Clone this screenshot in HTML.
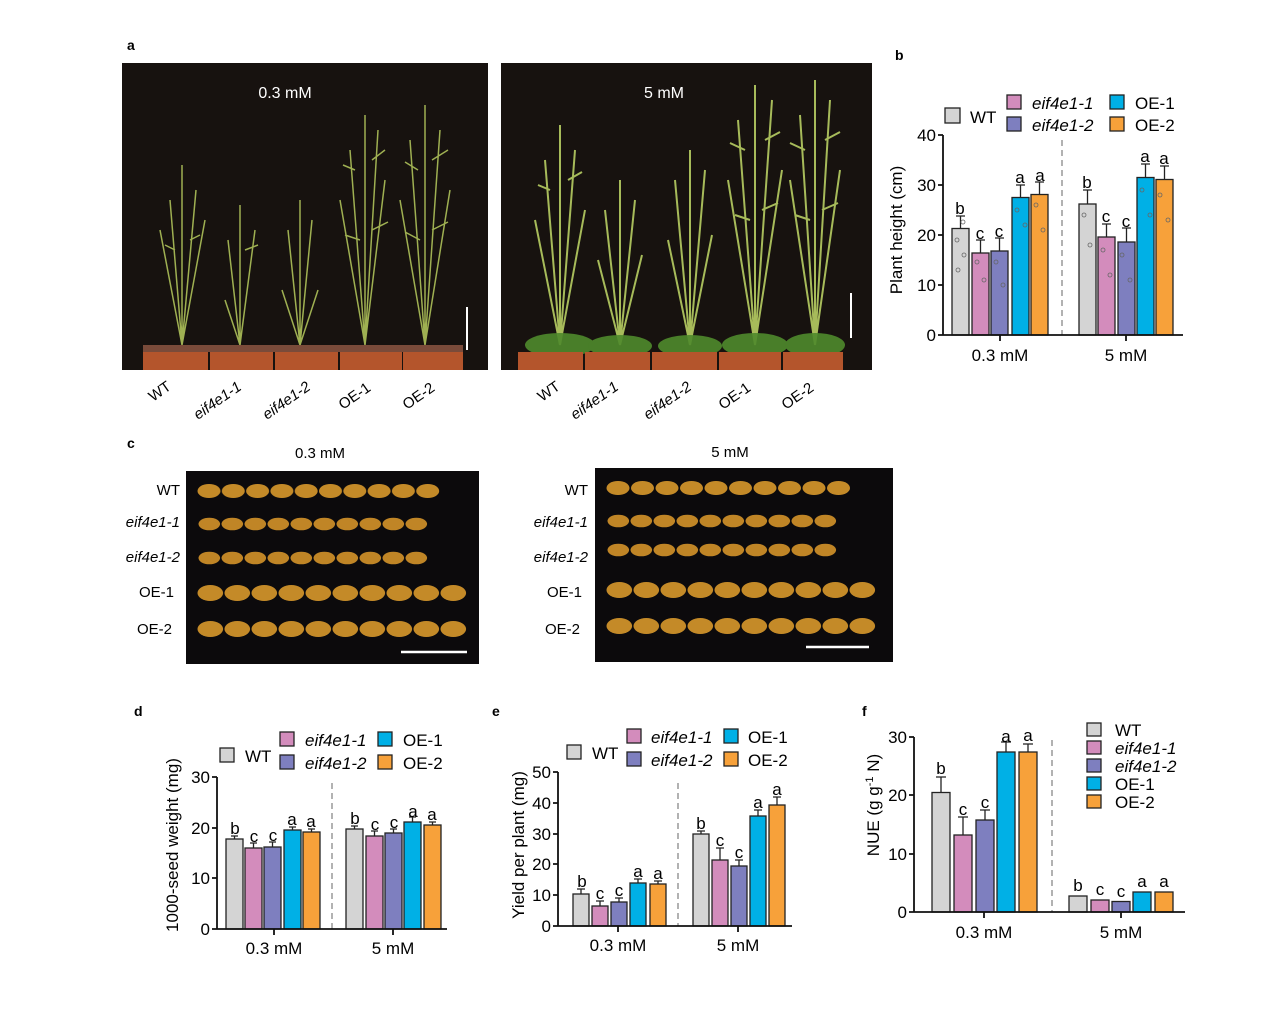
<!DOCTYPE html>
<html><head><meta charset="utf-8"><style>
body{margin:0;background:#fff}
svg{display:block;font-family:"Liberation Sans",Arial,sans-serif}
</style></head><body>
<svg width="1269" height="1017" viewBox="0 0 1269 1017" xmlns="http://www.w3.org/2000/svg">
<defs>
<pattern id="s1" x="197" y="0" width="24.3" height="20" patternUnits="userSpaceOnUse"><ellipse cx="12" cy="10" rx="11.5" ry="7" fill="#c48a28"/></pattern>
<pattern id="s2" x="198" y="0" width="23" height="20" patternUnits="userSpaceOnUse"><ellipse cx="11.3" cy="10" rx="10.8" ry="6.3" fill="#c08526"/></pattern>
<pattern id="s4" x="197" y="0" width="27" height="20" patternUnits="userSpaceOnUse"><ellipse cx="13.3" cy="10" rx="12.8" ry="8" fill="#c48a28"/></pattern>
<pattern id="r1" x="606" y="0" width="24.5" height="20" patternUnits="userSpaceOnUse"><ellipse cx="12" cy="10" rx="11.5" ry="7" fill="#c48a28"/></pattern>
<pattern id="r2" x="607" y="0" width="23" height="20" patternUnits="userSpaceOnUse"><ellipse cx="11.3" cy="10" rx="10.8" ry="6.3" fill="#c08526"/></pattern>
<pattern id="r4" x="606" y="0" width="27" height="20" patternUnits="userSpaceOnUse"><ellipse cx="13.3" cy="10" rx="12.8" ry="8" fill="#c48a28"/></pattern>
</defs>

<g font-weight="bold" font-size="14">
<text x="127" y="50">a</text><text x="895" y="60">b</text><text x="127" y="448">c</text>
<text x="134" y="716">d</text><text x="492" y="716">e</text><text x="862" y="716">f</text>
</g>

<!-- Panel a left photo -->
<rect x="122" y="63" width="366" height="307" fill="#17120f"/>
<text x="285" y="98" fill="#fff" font-size="16" text-anchor="middle">0.3 mM</text>
<g stroke="#9fb052" stroke-width="1.5" fill="none">
<path d="M182 345 L182 165 M182 345 L170 200 M182 345 L196 190 M182 345 L160 230 M182 345 L205 220 M175 250 L165 245 M190 240 L200 235"/>
<path d="M240 345 L240 205 M240 345 L228 240 M240 345 L255 230 M240 345 L225 300 M245 250 L258 245"/>
<path d="M300 345 L300 200 M300 345 L288 230 M300 345 L312 220 M300 345 L282 290 M300 345 L318 290"/>
<path d="M365 345 L365 115 M365 345 L350 150 M365 345 L378 130 M365 345 L340 200 M365 345 L385 180 M355 170 L343 165 M372 160 L385 150 M360 240 L345 235 M372 230 L388 222"/>
<path d="M425 345 L425 105 M425 345 L410 140 M425 345 L440 130 M425 345 L400 200 M425 345 L450 190 M418 170 L405 162 M432 160 L448 150 M420 240 L405 232 M432 230 L448 222"/>
</g>
<g fill="#b4552c"><rect x="143" y="348" width="65" height="22"/><rect x="210" y="348" width="63" height="22"/><rect x="275" y="348" width="63" height="22"/><rect x="340" y="348" width="62" height="22"/><rect x="403" y="348" width="60" height="22"/></g>
<rect x="143" y="345" width="320" height="7" fill="#7a4b3a"/>
<line x1="467" y1="307" x2="467" y2="350" stroke="#fff" stroke-width="2"/>
<!-- Panel a right photo -->
<rect x="501" y="63" width="371" height="307" fill="#17120f"/>
<text x="664" y="98" fill="#fff" font-size="16" text-anchor="middle">5 mM</text>
<g stroke="#a7bb5a" stroke-width="2" fill="none">
<path d="M560 345 L560 125 M560 345 L545 160 M560 345 L575 150 M560 345 L535 220 M560 345 L585 210 M550 190 L538 185 M568 180 L582 172"/>
<path d="M620 345 L620 180 M620 345 L605 210 M620 345 L635 200 M620 345 L598 260 M620 345 L642 255"/>
<path d="M690 345 L690 150 M690 345 L675 180 M690 345 L705 170 M690 345 L668 240 M690 345 L712 235"/>
<path d="M755 345 L755 85 M755 345 L738 120 M755 345 L772 100 M755 345 L728 180 M755 345 L782 170 M745 150 L730 143 M765 140 L780 132 M750 220 L735 215 M762 210 L778 203"/>
<path d="M815 345 L815 80 M815 345 L800 115 M815 345 L830 100 M815 345 L790 180 M815 345 L840 170 M805 150 L790 143 M825 140 L840 132 M810 220 L795 215 M822 210 L838 203"/>
</g>
<g fill="#4f8a2c" opacity="0.9"><ellipse cx="560" cy="345" rx="35" ry="12"/><ellipse cx="620" cy="346" rx="32" ry="11"/><ellipse cx="690" cy="346" rx="32" ry="11"/><ellipse cx="755" cy="345" rx="33" ry="12"/><ellipse cx="815" cy="345" rx="30" ry="12"/></g>
<g fill="#b4552c"><rect x="518" y="352" width="65" height="18"/><rect x="585" y="352" width="65" height="18"/><rect x="652" y="352" width="65" height="18"/><rect x="719" y="352" width="62" height="18"/><rect x="783" y="352" width="60" height="18"/></g>
<line x1="851" y1="293" x2="851" y2="338" stroke="#fff" stroke-width="2"/>
<g font-size="15">
<text transform="translate(153,402) rotate(-35)">WT</text>
<text transform="translate(198,420) rotate(-35)" font-style="italic">eif4e1-1</text>
<text transform="translate(267,420) rotate(-35)" font-style="italic">eif4e1-2</text>
<text transform="translate(343,410) rotate(-35)">OE-1</text>
<text transform="translate(407,410) rotate(-35)">OE-2</text>
<text transform="translate(542,402) rotate(-35)">WT</text>
<text transform="translate(575,420) rotate(-35)" font-style="italic">eif4e1-1</text>
<text transform="translate(648,420) rotate(-35)" font-style="italic">eif4e1-2</text>
<text transform="translate(723,410) rotate(-35)">OE-1</text>
<text transform="translate(786,410) rotate(-35)">OE-2</text>
</g>

<!-- Panel c -->
<text x="320" y="458" font-size="15" text-anchor="middle">0.3 mM</text>
<text x="730" y="457" font-size="15" text-anchor="middle">5 mM</text>
<rect x="186" y="471" width="293" height="193" fill="#0c0a0c"/>
<g transform="translate(0,481)"><rect x="197" y="0" width="243" height="20" fill="url(#s1)"/></g>
<g transform="translate(0,514)"><rect x="198" y="0" width="230" height="20" fill="url(#s2)"/></g>
<g transform="translate(0,548)"><rect x="198" y="0" width="230" height="20" fill="url(#s2)"/></g>
<g transform="translate(0,583)"><rect x="197" y="0" width="270" height="20" fill="url(#s4)"/></g>
<g transform="translate(0,619)"><rect x="197" y="0" width="270" height="20" fill="url(#s4)"/></g>
<line x1="401" y1="652" x2="467" y2="652" stroke="#fff" stroke-width="2.5"/>
<rect x="595" y="468" width="298" height="194" fill="#0c0a0c"/>
<g transform="translate(0,478)"><rect x="606" y="0" width="245" height="20" fill="url(#r1)"/></g>
<g transform="translate(0,511)"><rect x="607" y="0" width="230" height="20" fill="url(#r2)"/></g>
<g transform="translate(0,540)"><rect x="607" y="0" width="230" height="20" fill="url(#r2)"/></g>
<g transform="translate(0,580)"><rect x="606" y="0" width="270" height="20" fill="url(#r4)"/></g>
<g transform="translate(0,616)"><rect x="606" y="0" width="270" height="20" fill="url(#r4)"/></g>
<line x1="806" y1="647" x2="869" y2="647" stroke="#fff" stroke-width="2.5"/>
<g font-size="15" text-anchor="end">
<text x="180" y="495">WT</text><text x="180" y="527" font-style="italic">eif4e1-1</text><text x="180" y="562" font-style="italic">eif4e1-2</text><text x="174" y="597">OE-1</text><text x="172" y="634">OE-2</text>
<text x="588" y="495">WT</text><text x="588" y="527" font-style="italic">eif4e1-1</text><text x="588" y="562" font-style="italic">eif4e1-2</text><text x="582" y="597">OE-1</text><text x="580" y="634">OE-2</text>
</g>

<!-- Panel b -->
<g stroke="#222" stroke-width="1.3">
<rect x="952" y="228.5" width="17" height="106.5" fill="#d4d4d4"/>
<rect x="972" y="253" width="17" height="82" fill="#d38cbc"/>
<rect x="991" y="251" width="17" height="84" fill="#7e7fbf"/>
<rect x="1012" y="197.5" width="17" height="137.5" fill="#00b0e6"/>
<rect x="1031" y="194.5" width="17" height="140.5" fill="#f7a13a"/>
<rect x="1079" y="204" width="17" height="131" fill="#d4d4d4"/>
<rect x="1098" y="237" width="17" height="98" fill="#d38cbc"/>
<rect x="1118" y="242" width="17" height="93" fill="#7e7fbf"/>
<rect x="1137" y="177.5" width="17" height="157.5" fill="#00b0e6"/>
<rect x="1156" y="179.5" width="17" height="155.5" fill="#f7a13a"/>
<path d="M960.5 228 V216 M956 216 H965 M980.5 253 V240 M976 240 H985 M999.5 251 V238 M995 238 H1004 M1020.5 197 V185 M1016 185 H1025 M1039.5 194 V182 M1035 182 H1044 M1087.5 204 V190 M1083 190 H1092 M1106.5 237 V224 M1102 224 H1111 M1126.5 242 V228 M1122 228 H1131 M1145.5 177 V164 M1141 164 H1150 M1164.5 179 V166 M1160 166 H1169" fill="none"/>
</g>
<g fill="none" stroke="#666" stroke-width="0.8">
<circle cx="957" cy="240" r="2"/><circle cx="964" cy="255" r="2"/><circle cx="958" cy="270" r="2"/><circle cx="963" cy="222" r="2"/><circle cx="977" cy="262" r="2"/><circle cx="984" cy="280" r="2"/><circle cx="996" cy="262" r="2"/><circle cx="1003" cy="285" r="2"/><circle cx="1017" cy="210" r="2"/><circle cx="1025" cy="225" r="2"/><circle cx="1036" cy="205" r="2"/><circle cx="1043" cy="230" r="2"/><circle cx="1084" cy="215" r="2"/><circle cx="1090" cy="245" r="2"/><circle cx="1103" cy="250" r="2"/><circle cx="1110" cy="275" r="2"/><circle cx="1122" cy="255" r="2"/><circle cx="1130" cy="280" r="2"/><circle cx="1142" cy="190" r="2"/><circle cx="1150" cy="215" r="2"/><circle cx="1160" cy="195" r="2"/><circle cx="1168" cy="220" r="2"/>
</g>
<line x1="1062" y1="140" x2="1062" y2="335" stroke="#888" stroke-width="1.3" stroke-dasharray="6,4"/>
<g stroke="#111" stroke-width="1.8"><path d="M943 135 V335 H1183 M938 135 H943 M938 185 H943 M938 235 H943 M938 285 H943 M938 335 H943 M1000 335 V341 M1126 335 V341" fill="none"/></g>
<g font-size="17" text-anchor="end"><text x="936" y="141">40</text><text x="936" y="191">30</text><text x="936" y="241">20</text><text x="936" y="291">10</text><text x="936" y="341">0</text></g>
<g font-size="17" text-anchor="middle"><text x="1000" y="361">0.3 mM</text><text x="1126" y="361">5 mM</text></g>
<text transform="translate(902,230) rotate(-90)" font-size="17" text-anchor="middle">Plant height (cm)</text>
<g font-size="17" text-anchor="middle"><text x="960" y="214">b</text><text x="980" y="239">c</text><text x="999" y="237">c</text><text x="1020" y="183">a</text><text x="1040" y="181">a</text><text x="1087" y="188">b</text><text x="1106" y="222">c</text><text x="1126" y="227">c</text><text x="1145" y="162">a</text><text x="1164" y="164">a</text></g>
<g stroke="#222" stroke-width="1.3"><rect x="945" y="108" width="15" height="15" fill="#d4d4d4"/><rect x="1007" y="95" width="14" height="14" fill="#d38cbc"/><rect x="1007" y="117" width="14" height="14" fill="#7e7fbf"/><rect x="1110" y="95" width="14" height="14" fill="#00b0e6"/><rect x="1110" y="117" width="14" height="14" fill="#f7a13a"/></g>
<g font-size="17"><text x="970" y="123">WT</text><text x="1032" y="109" font-style="italic">eif4e1-1</text><text x="1032" y="131" font-style="italic">eif4e1-2</text><text x="1135" y="109">OE-1</text><text x="1135" y="131">OE-2</text></g>

<!-- Panel d -->
<g stroke="#222" stroke-width="1.3">
<rect x="226" y="839" width="17" height="90" fill="#d4d4d4"/>
<rect x="245" y="848" width="17" height="81" fill="#d38cbc"/>
<rect x="264" y="847" width="17" height="82" fill="#7e7fbf"/>
<rect x="284" y="830" width="17" height="99" fill="#00b0e6"/>
<rect x="303" y="832" width="17" height="97" fill="#f7a13a"/>
<rect x="346" y="829" width="17" height="100" fill="#d4d4d4"/>
<rect x="366" y="836" width="17" height="93" fill="#d38cbc"/>
<rect x="385" y="833" width="17" height="96" fill="#7e7fbf"/>
<rect x="404" y="822" width="17" height="107" fill="#00b0e6"/>
<rect x="424" y="825" width="17" height="104" fill="#f7a13a"/>
<path d="M234.5 839 V836 M253.5 848 V843 M272.5 847 V842 M292.5 830 V827 M311.5 832 V829 M354.5 829 V826 M374.5 836 V831 M393.5 833 V829 M412.5 822 V817 M432.5 825 V822 M231 836 H238 M250 843 H257 M269 842 H276 M289 827 H296 M308 829 H315 M351 826 H358 M371 831 H378 M390 829 H397 M409 817 H416 M429 822 H436" fill="none"/>
</g>
<line x1="332" y1="783" x2="332" y2="929" stroke="#888" stroke-width="1.3" stroke-dasharray="6,4"/>
<g stroke="#111" stroke-width="1.8"><path d="M217 777 V929 H447 M212 777 H217 M212 828 H217 M212 878 H217 M212 929 H217 M274 929 V935 M393 929 V935" fill="none"/></g>
<g font-size="17" text-anchor="end"><text x="210" y="783">30</text><text x="210" y="834">20</text><text x="210" y="884">10</text><text x="210" y="935">0</text></g>
<g font-size="17" text-anchor="middle"><text x="274" y="954">0.3 mM</text><text x="393" y="954">5 mM</text></g>
<text transform="translate(178,845) rotate(-90)" font-size="17" text-anchor="middle">1000-seed weight (mg)</text>
<g font-size="17" text-anchor="middle"><text x="235" y="834">b</text><text x="254" y="842">c</text><text x="273" y="841">c</text><text x="292" y="825">a</text><text x="311" y="827">a</text><text x="355" y="824">b</text><text x="375" y="830">c</text><text x="394" y="828">c</text><text x="413" y="817">a</text><text x="432" y="820">a</text></g>
<g stroke="#222" stroke-width="1.3"><rect x="220" y="748" width="14" height="14" fill="#d4d4d4"/><rect x="280" y="732" width="14" height="14" fill="#d38cbc"/><rect x="280" y="755" width="14" height="14" fill="#7e7fbf"/><rect x="378" y="732" width="14" height="14" fill="#00b0e6"/><rect x="378" y="755" width="14" height="14" fill="#f7a13a"/></g>
<g font-size="17"><text x="245" y="762">WT</text><text x="305" y="746" font-style="italic">eif4e1-1</text><text x="305" y="769" font-style="italic">eif4e1-2</text><text x="403" y="746">OE-1</text><text x="403" y="769">OE-2</text></g>

<!-- Panel e -->
<g stroke="#222" stroke-width="1.3">
<rect x="573" y="894" width="16" height="32" fill="#d4d4d4"/>
<rect x="592" y="906" width="16" height="20" fill="#d38cbc"/>
<rect x="611" y="902" width="16" height="24" fill="#7e7fbf"/>
<rect x="630" y="883" width="16" height="43" fill="#00b0e6"/>
<rect x="650" y="884" width="16" height="42" fill="#f7a13a"/>
<rect x="693" y="834" width="16" height="92" fill="#d4d4d4"/>
<rect x="712" y="860" width="16" height="66" fill="#d38cbc"/>
<rect x="731" y="866" width="16" height="60" fill="#7e7fbf"/>
<rect x="750" y="816" width="16" height="110" fill="#00b0e6"/>
<rect x="769" y="805" width="16" height="121" fill="#f7a13a"/>
<path d="M581 894 V889 M600 906 V901 M619 902 V898 M638 883 V879 M658 884 V881 M701 834 V831 M720 860 V848 M739 866 V860 M758 816 V810 M777 805 V797 M577 889 H585 M596 901 H604 M615 898 H623 M634 879 H642 M654 881 H662 M697 831 H705 M716 848 H724 M735 860 H743 M754 810 H762 M773 797 H781" fill="none"/>
</g>
<line x1="678" y1="783" x2="678" y2="926" stroke="#888" stroke-width="1.3" stroke-dasharray="6,4"/>
<g stroke="#111" stroke-width="1.8"><path d="M558 772 V926 H792 M553 772 H558 M553 803 H558 M553 834 H558 M553 864 H558 M553 895 H558 M553 926 H558 M618 926 V932 M738 926 V932" fill="none"/></g>
<g font-size="17" text-anchor="end"><text x="551" y="778">50</text><text x="551" y="809">40</text><text x="551" y="840">30</text><text x="551" y="870">20</text><text x="551" y="901">10</text><text x="551" y="932">0</text></g>
<g font-size="17" text-anchor="middle"><text x="618" y="951">0.3 mM</text><text x="738" y="951">5 mM</text></g>
<text transform="translate(524,845) rotate(-90)" font-size="17" text-anchor="middle">Yield per plant (mg)</text>
<g font-size="17" text-anchor="middle"><text x="582" y="887">b</text><text x="600" y="899">c</text><text x="619" y="896">c</text><text x="638" y="877">a</text><text x="658" y="879">a</text><text x="701" y="829">b</text><text x="720" y="846">c</text><text x="739" y="858">c</text><text x="758" y="808">a</text><text x="777" y="795">a</text></g>
<g stroke="#222" stroke-width="1.3"><rect x="567" y="745" width="14" height="14" fill="#d4d4d4"/><rect x="627" y="729" width="14" height="14" fill="#d38cbc"/><rect x="627" y="752" width="14" height="14" fill="#7e7fbf"/><rect x="724" y="729" width="14" height="14" fill="#00b0e6"/><rect x="724" y="752" width="14" height="14" fill="#f7a13a"/></g>
<g font-size="17"><text x="592" y="759">WT</text><text x="651" y="743" font-style="italic">eif4e1-1</text><text x="651" y="766" font-style="italic">eif4e1-2</text><text x="748" y="743">OE-1</text><text x="748" y="766">OE-2</text></g>

<!-- Panel f -->
<g stroke="#222" stroke-width="1.3">
<rect x="932" y="792.5" width="18" height="119.5" fill="#d4d4d4"/>
<rect x="954" y="835" width="18" height="77" fill="#d38cbc"/>
<rect x="976" y="820" width="18" height="92" fill="#7e7fbf"/>
<rect x="997" y="752" width="18" height="160" fill="#00b0e6"/>
<rect x="1019" y="752" width="18" height="160" fill="#f7a13a"/>
<rect x="1069" y="896" width="18" height="16" fill="#d4d4d4"/>
<rect x="1091" y="900" width="18" height="12" fill="#d38cbc"/>
<rect x="1112" y="901.5" width="18" height="10.5" fill="#7e7fbf"/>
<rect x="1133" y="892" width="18" height="20" fill="#00b0e6"/>
<rect x="1155" y="892" width="18" height="20" fill="#f7a13a"/>
<path d="M941 792 V777 M963 835 V817 M985 820 V810 M1006 752 V742 M1028 752 V744 M936 777 H946 M958 817 H968 M980 810 H990 M1001 742 H1011 M1023 744 H1033" fill="none"/>
</g>
<line x1="1052" y1="740" x2="1052" y2="912" stroke="#888" stroke-width="1.3" stroke-dasharray="6,4"/>
<g stroke="#111" stroke-width="1.8"><path d="M914 737 V912 H1185 M909 737 H914 M909 795 H914 M909 854 H914 M909 912 H914 M984 912 V918 M1121 912 V918" fill="none"/></g>
<g font-size="17" text-anchor="end"><text x="907" y="743">30</text><text x="907" y="801">20</text><text x="907" y="860">10</text><text x="907" y="918">0</text></g>
<g font-size="17" text-anchor="middle"><text x="984" y="938">0.3 mM</text><text x="1121" y="938">5 mM</text></g>
<text transform="translate(879,805) rotate(-90)" font-size="17" text-anchor="middle">NUE (g g<tspan font-size="11" dy="-6">-1</tspan><tspan dy="6"> N)</tspan></text>
<g font-size="17" text-anchor="middle"><text x="941" y="774">b</text><text x="963" y="815">c</text><text x="985" y="808">c</text><text x="1006" y="742">a</text><text x="1028" y="741">a</text><text x="1078" y="891">b</text><text x="1100" y="895">c</text><text x="1121" y="897">c</text><text x="1142" y="887">a</text><text x="1164" y="887">a</text></g>
<g stroke="#222" stroke-width="1.3"><rect x="1087" y="723" width="14" height="13" fill="#d4d4d4"/><rect x="1087" y="741" width="14" height="13" fill="#d38cbc"/><rect x="1087" y="759" width="14" height="13" fill="#7e7fbf"/><rect x="1087" y="777" width="14" height="13" fill="#00b0e6"/><rect x="1087" y="795" width="14" height="13" fill="#f7a13a"/></g>
<g font-size="17"><text x="1115" y="736">WT</text><text x="1115" y="754" font-style="italic">eif4e1-1</text><text x="1115" y="772" font-style="italic">eif4e1-2</text><text x="1115" y="790">OE-1</text><text x="1115" y="808">OE-2</text></g>
</svg>
</body></html>
